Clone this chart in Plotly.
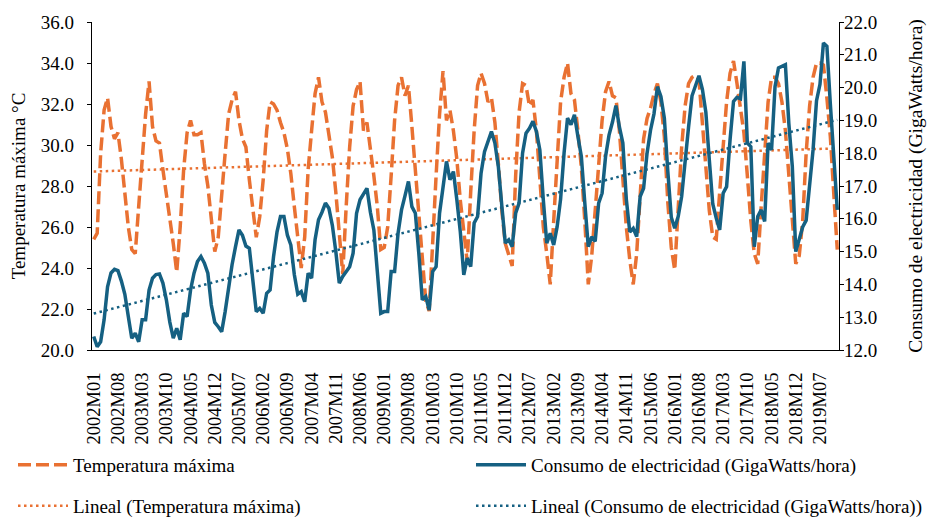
import plotly.graph_objects as go
import numpy as np

years = list(range(2002, 2020))
months = ["M%02d" % m for m in range(1, 13)]
categorias = [f"{y}{m}" for y in years for m in months]

tick_labels = ["2002M01", "2002M08", "2003M03", "2003M10", "2004M05", "2004M12",
               "2005M07", "2006M02", "2006M09", "2007M04", "2007M11", "2008M06",
               "2009M01", "2009M08", "2010M03", "2010M10", "2011M05", "2011M12",
               "2012M07", "2013M02", "2013M09", "2014M04", "2014M11", "2015M06",
               "2016M01", "2016M08", "2017M03", "2017M10", "2018M05", "2018M12",
               "2019M07"]

temperatura = [
    25.4, 25.7, 29.6, 31.7, 32.3, 30.9, 30.3, 30.6, 29.3, 27.8, 26.0, 24.9,  # 2002
    24.7, 27.0, 29.3, 31.5, 33.1, 30.9, 30.2, 30.1, 28.8, 27.7, 26.4, 25.2,  # 2003
    23.8, 26.0, 28.8, 30.6, 31.2, 30.5, 30.5, 30.6, 29.1, 28.0, 26.3, 24.8,  # 2004
    25.5, 27.7, 29.6, 31.5, 32.2, 32.6, 31.2, 30.3, 29.9, 28.3, 27.0, 25.5,  # 2005
    26.5, 28.3, 30.7, 32.1, 32.0, 31.7, 31.1, 30.6, 29.8, 28.6, 27.0, 25.4,  # 2006
    24.0, 25.5, 28.8, 30.7, 32.5, 33.3, 32.1, 31.6, 30.5, 29.4, 27.7, 25.5,  # 2007
    23.7, 27.0, 29.9, 31.9, 32.7, 33.1, 30.7, 31.1, 29.9, 28.5, 27.0, 24.9,  # 2008
    25.0, 26.0, 28.5, 31.2, 32.9, 33.3, 32.4, 32.9, 30.9, 28.8, 26.3, 24.5,  # 2009
    22.4, 21.9, 25.5, 28.5, 31.5, 33.6, 31.2, 31.7, 30.7, 29.3, 27.3, 25.7,  # 2010
    24.3, 27.7, 30.7, 32.9, 33.5, 33.0, 32.1, 32.3, 31.1, 29.1, 26.8, 25.2,  # 2011
    24.7, 24.1, 28.5, 31.6, 33.0, 32.9, 31.9, 32.2, 30.7, 28.5, 26.0, 24.7,  # 2012
    23.2, 26.3, 29.3, 32.1, 33.3, 34.0, 32.5, 32.2, 30.7, 28.9, 26.3, 23.2,  # 2013
    24.6, 27.0, 29.3, 31.2, 32.6, 33.1, 32.4, 32.3, 30.7, 28.5, 26.0, 24.4,  # 2014
    23.2, 24.7, 27.7, 30.3, 31.3, 31.8, 32.5, 33.0, 32.1, 30.4, 27.2, 25.0,  # 2015
    23.9, 27.0, 29.9, 31.9, 33.0, 33.3, 33.4, 33.2, 31.2, 28.9, 26.8, 25.5,  # 2016
    25.4, 27.7, 29.9, 32.1, 33.5, 34.1, 33.0, 31.9, 30.6, 28.5, 26.3, 24.7,  # 2017
    24.2, 27.0, 29.9, 32.1, 33.3, 33.3, 33.0, 32.1, 30.7, 28.6, 26.3, 24.2,  # 2018
    24.6, 26.3, 29.6, 31.9, 33.3, 34.0, 34.0, 33.9, 32.3, 30.4, 27.6, 24.9,  # 2019
]

consumo = [
    12.41, 12.10, 12.25, 12.92, 13.93, 14.35, 14.46, 14.42, 14.10, 13.70, 13.02, 12.36,  # 2002
    12.51, 12.25, 12.92, 12.92, 13.83, 14.19, 14.30, 14.32, 14.04, 13.53, 12.85, 12.36,  # 2003
    12.66, 12.31, 13.12, 13.02, 13.83, 14.34, 14.70, 14.85, 14.65, 14.34, 13.37, 12.84,  # 2004
    12.71, 12.56, 13.17, 13.90, 14.60, 15.15, 15.66, 15.50, 15.17, 15.10, 14.24, 13.17,  # 2005
    13.27, 13.12, 13.73, 13.83, 14.85, 15.60, 16.07, 16.07, 15.50, 15.20, 14.30, 13.70,  # 2006
    13.78, 13.47, 14.34, 14.19, 15.36, 15.97, 16.20, 16.48, 16.32, 15.80, 15.00, 14.04,  # 2007
    14.24, 14.40, 14.54, 14.95, 16.17, 16.58, 16.75, 16.93, 16.20, 15.66, 14.40, 13.12,  # 2008
    13.17, 13.17, 14.39, 14.39, 15.56, 16.27, 16.70, 17.14, 16.37, 16.17, 14.95, 13.53,  # 2009
    13.63, 13.22, 14.39, 14.54, 16.17, 16.90, 17.75, 17.19, 17.44, 16.58, 15.60, 14.29,  # 2010
    14.80, 14.54, 15.87, 16.07, 17.39, 18.05, 18.36, 18.66, 18.31, 17.59, 16.40, 15.26,  # 2011
    15.36, 15.15, 16.17, 16.48, 18.00, 18.61, 18.76, 18.97, 18.66, 18.10, 16.58, 15.26,  # 2012
    15.56, 15.20, 15.76, 16.60, 18.00, 19.07, 18.87, 19.17, 18.51, 17.90, 16.48, 15.15,  # 2013
    15.45, 15.31, 16.48, 16.78, 17.90, 18.55, 18.95, 19.45, 18.80, 18.31, 16.60, 15.60,  # 2014
    15.71, 15.46, 16.68, 16.93, 18.00, 18.70, 19.20, 20.03, 19.73, 19.07, 17.45, 16.05,  # 2015
    15.71, 16.07, 16.68, 17.80, 18.80, 19.75, 20.10, 20.36, 19.95, 19.25, 17.80, 16.45,  # 2016
    16.02, 15.66, 16.78, 16.98, 18.41, 19.58, 19.70, 19.66, 20.80, 18.31, 18.20, 15.15,  # 2017
    16.07, 16.27, 15.92, 18.31, 18.10, 20.03, 20.60, 20.65, 20.70, 18.90, 17.60, 15.00,  # 2018
    15.36, 15.75, 15.95, 16.95, 18.10, 19.60, 20.10, 21.36, 21.26, 19.50, 18.00, 16.27,  # 2019
]

ORANGE = "#E97132"
BLUE = "#156082"
FONT = "Liberation Serif"

# linear trendlines (least squares on the series, as Excel does)
idx = np.arange(1, len(categorias) + 1)
pt = np.polyfit(idx, temperatura, 1)
pc = np.polyfit(idx, consumo, 1)
trend_t = np.polyval(pt, idx)
trend_c = np.polyval(pc, idx)

fig = go.Figure()
fig.add_trace(go.Scatter(x=categorias, y=temperatura, mode="lines",
                         name="Temperatura máxima", yaxis="y",
                         line=dict(color=ORANGE, width=3.5, dash="13px,5px"),
                         legend="legend"))
fig.add_trace(go.Scatter(x=categorias, y=consumo, mode="lines",
                         name="Consumo de electricidad (GigaWatts/hora)", yaxis="y2",
                         line=dict(color=BLUE, width=3.5),
                         legend="legend2"))
fig.add_trace(go.Scatter(x=categorias, y=trend_t, mode="lines",
                         name="Lineal (Temperatura máxima)", yaxis="y",
                         line=dict(color=ORANGE, width=2.5, dash="2.5px,3.5px"),
                         legend="legend3"))
fig.add_trace(go.Scatter(x=categorias, y=trend_c, mode="lines",
                         name="Lineal (Consumo de electricidad (GigaWatts/hora))", yaxis="y2",
                         line=dict(color=BLUE, width=2.5, dash="2.5px,3.5px"),
                         legend="legend4"))

W, H = 929, 519
leg_common = dict(orientation="h", xref="container", yref="container",
                  xanchor="left", yanchor="middle", itemwidth=50,
                  font=dict(family=FONT, size=19, color="black"),
                  bgcolor="rgba(0,0,0,0)")
col1_x, col2_x = 13 / W, 471 / W
row1_y, row2_y = 1 - 465 / H, 1 - 506 / H

fig.update_layout(
    width=W, height=H,
    showlegend=True,
    margin=dict(l=92, r=90, t=22, b=169, autoexpand=False),
    paper_bgcolor="white", plot_bgcolor="white",
    font=dict(family=FONT, size=19, color="black"),
    xaxis=dict(type="category", range=[-0.5, len(categorias) - 0.5],
               tickmode="array", tickvals=tick_labels, ticktext=tick_labels,
               tickangle=-90, showline=True, linecolor="black", linewidth=1.2,
               showgrid=False, zeroline=False, ticks="", ticklabelstandoff=14,
               automargin=False,
               tickfont=dict(family=FONT, size=18.5, color="black")),
    yaxis=dict(range=[20, 36], dtick=2, tickformat=".1f", showline=True,
               linecolor="black", linewidth=1.2, ticks="outside", ticklen=4,
               tickcolor="black", showgrid=False, zeroline=False,
               ticklabelstandoff=9, automargin=False,
               title=dict(text="Temperatura máxima °C", standoff=10,
                          font=dict(family=FONT, size=19, color="black")),
               tickfont=dict(family=FONT, size=19, color="black")),
    yaxis2=dict(range=[12, 22], dtick=1, tickformat=".1f", overlaying="y",
                side="right", showline=True, linecolor="black", linewidth=1.2,
                ticks="outside", ticklen=4, tickcolor="black",
                showgrid=False, zeroline=False, ticklabelstandoff=-4,
                automargin=False,
                title=dict(text="Consumo de electricidad (GigaWatts/hora)", standoff=32,
                           font=dict(family=FONT, size=19.5, color="black")),
                tickfont=dict(family=FONT, size=19, color="black")),
    legend=dict(x=col1_x, y=row1_y, **leg_common),
    legend2=dict(x=col2_x, y=row1_y, **leg_common),
    legend3=dict(x=col1_x, y=row2_y, **leg_common),
    legend4=dict(x=col2_x, y=row2_y, **leg_common),
)

fig.write_html("out.html",
               config={"displayModeBar": False},
               post_script="document.body.style.margin='0';document.body.style.padding='0';")
